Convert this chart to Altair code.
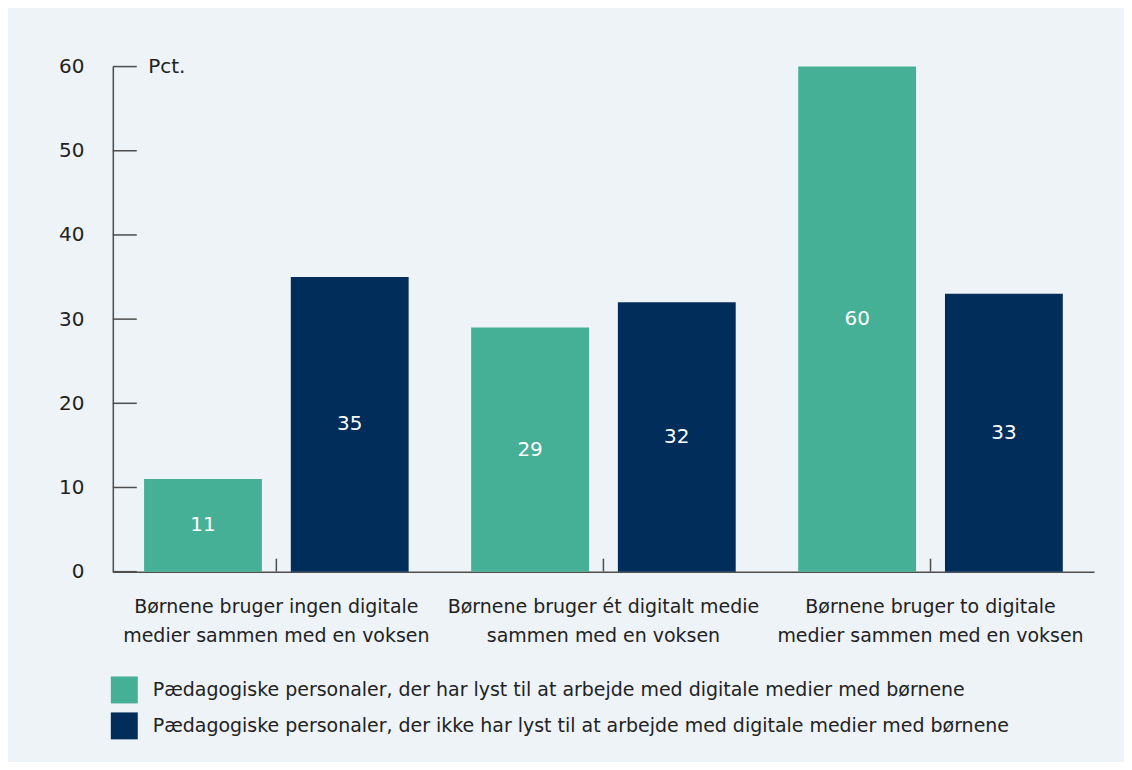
import altair as alt
import pandas as pd

categories = [
    "Børnene bruger ingen digitale\nmedier sammen med en voksen",
    "Børnene bruger ét digitalt medie\nsammen med en voksen",
    "Børnene bruger to digitale\nmedier sammen med en voksen",
]
series = [
    "Pædagogiske personaler, der har lyst til at arbejde med digitale medier med børnene",
    "Pædagogiske personaler, der ikke har lyst til at arbejde med digitale medier med børnene",
]
values_yes = [11, 29, 60]
values_no = [35, 32, 33]
y_ticks = [0, 10, 20, 30, 40, 50, 60]
colors = ["#46B096", "#002D5A"]

FONT = "DejaVu Sans"
W, H = 983, 506

rows = []
for c, a, b in zip(categories, values_yes, values_no):
    rows.append({"category": c, "series": series[0], "value": a})
    rows.append({"category": c, "series": series[1], "value": b})
df = pd.DataFrame(rows)
df_cat = pd.DataFrame({"category": categories})
df_ticks = pd.DataFrame({"value": y_ticks})

xscale = alt.Scale(paddingInner=0, paddingOuter=0)
yscale = alt.Scale(domain=[0, 60], nice=False)
offscale = alt.Scale(paddingInner=0.197, paddingOuter=0.213)

x_enc = alt.X(
    "category:N", sort=categories, scale=xscale,
    axis=alt.Axis(
        title=None, labelExpr="split(datum.label, '\\n')", labelAngle=0,
        ticks=False, domain=True, domainColor="#4D4D4D", domainWidth=1.5,
        labelPadding=26, labelFontSize=19, labelLineHeight=29,
        labelColor="#222222", labelFont=FONT, labelBaseline="top",
        labelLimit=400,
    ),
)
y_enc = alt.Y(
    "value:Q", scale=yscale,
    axis=alt.Axis(
        values=y_ticks, ticks=False, grid=False, domainColor="#4D4D4D",
        domainWidth=1.5, labelPadding=29, labelFontSize=20, labelColor="#222222",
        labelFont=FONT, title="Pct.", titleAngle=0, titleX=35, titleY=0,
        titleAlign="left", titleBaseline="middle", titleFontWeight="normal",
        titleFontSize=20, titleColor="#222222", titleFont=FONT,
    ),
)

bars = alt.Chart(df).mark_bar().encode(
    x=x_enc,
    xOffset=alt.XOffset("series:N", sort=series, scale=offscale),
    y=y_enc,
    color=alt.Color(
        "series:N", sort=series,
        scale=alt.Scale(domain=series, range=colors),
        legend=alt.Legend(
            title=None, orient="none", legendX=-2, legendY=611,
            symbolType="square", symbolSize=729, symbolStrokeWidth=0,
            symbolOpacity=1, labelFontSize=19, labelOffset=15, rowPadding=9,
            padding=0, labelLimit=1200, labelColor="#222222", labelFont=FONT,
            direction="vertical",
        ),
    ),
)

labels = alt.Chart(df).transform_calculate(mid="datum.value / 2").mark_text(
    color="white", fontSize=20, font=FONT, align="center", baseline="middle"
).encode(
    x=alt.X("category:N", sort=categories),
    xOffset=alt.XOffset("series:N", sort=series),
    y=alt.Y("mid:Q"),
    text=alt.Text("value:Q"),
)

xticks = alt.Chart(df_cat).mark_rule(color="#4D4D4D", strokeWidth=1.5).encode(
    x=alt.X("category:N", sort=categories),
    y=alt.value(H - 13),
    y2=alt.value(H),
)

yticks = alt.Chart(df_ticks).mark_rule(color="#4D4D4D", strokeWidth=1.5).encode(
    y=alt.Y("value:Q"),
    x=alt.value(0),
    x2=alt.value(24),
)

chart = alt.layer(bars, labels, xticks, yticks).properties(
    width=W, height=H,
    padding={"left": 105, "top": 58, "right": 30, "bottom": 190},
    autosize=alt.AutoSizeParams(type="none"),
    background="#EEF3F8",
).configure(font=FONT).configure_view(stroke=None)

chart.save("out.html", embed_options={"renderer": "svg", "actions": False})
